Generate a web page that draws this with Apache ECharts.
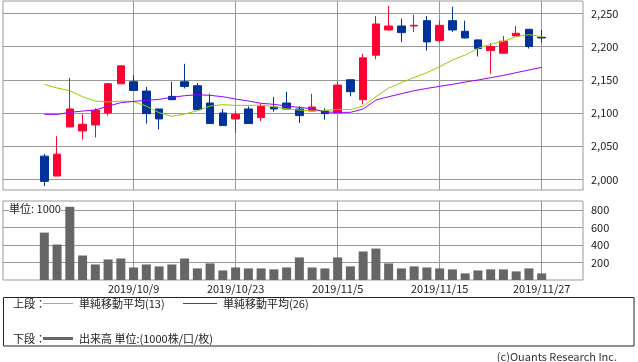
<!DOCTYPE html>
<html><head><meta charset="utf-8">
<script src="https://cdn.jsdelivr.net/npm/echarts@6/dist/echarts.min.js"></script>
<style>html,body{margin:0;padding:0;background:#fff}#c{width:638px;height:362px}</style>
</head><body><div id="c"></div>
<script>
const dates = ['2019/9/30','2019/10/1','2019/10/2','2019/10/3','2019/10/4','2019/10/7','2019/10/8','2019/10/9','2019/10/10','2019/10/11',
  '2019/10/15','2019/10/16','2019/10/17','2019/10/18','2019/10/21','2019/10/23','2019/10/24','2019/10/25','2019/10/28','2019/10/29',
  '2019/10/30','2019/10/31','2019/11/1','2019/11/5','2019/11/6','2019/11/7','2019/11/8','2019/11/11','2019/11/12','2019/11/13',
  '2019/11/14','2019/11/15','2019/11/18','2019/11/19','2019/11/20','2019/11/21','2019/11/22','2019/11/25','2019/11/26','2019/11/27'];
const openP  = [2035,2005,2079,2073,2082,2100,2144,2147,2133,2106,2125,2147,2141,2115,2100,2091,2106,2093,2109,2115,2106,2103,2103,2100,2150,2120,2187,2225,2231,2231,2239,2209,2239,2223,2210,2194,2190,2216,2226,2214];
const closeP = [1997,2038,2106,2083,2104,2144,2171,2134,2099,2091,2120,2140,2105,2084,2081,2098,2084,2110,2106,2106,2096,2109,2099,2142,2132,2183,2234,2231,2221,2232,2207,2232,2225,2213,2197,2200,2208,2220,2200,2213];
const lowP   = [1990,2005,2079,2060,2063,2096,2144,2134,2084,2075,2120,2137,2105,2084,2081,2070,2084,2088,2102,2106,2085,2103,2090,2100,2125,2113,2181,2224,2207,2222,2194,2206,2222,2212,2185,2159,2190,2216,2197,2206];
const highP  = [2038,2065,2153,2098,2107,2145,2171,2157,2139,2106,2147,2174,2145,2129,2106,2103,2110,2114,2124,2132,2110,2129,2107,2148,2150,2189,2246,2261,2242,2248,2246,2239,2260,2239,2211,2205,2216,2231,2226,2225];
const ma13 = [2143.1,2137.6,2133.5,2124.5,2118.0,2116.5,2118.0,2117.0,2110.4,2100.4,2094.9,2098.4,2103.4,2110.4,2112.5,2111.4,2111.4,2111.9,2109.4,2106.4,
  2104.4,2102.9,2103.9,2105.4,2105.0,2110.4,2124.5,2137.5,2145.6,2153.6,2160.7,2169.7,2179.7,2187.3,2197.3,2203.3,2207.8,2214.9,2217.9,2214.9];
const ma26 = [2097.9,2097.9,2100.9,2102.9,2104.4,2110.4,2115.5,2117.5,2119.0,2120.5,2123.5,2126.0,2127.5,2126.5,2124.5,2121.0,2118.0,2114.5,2113.0,2110.4,
  2108.4,2106.4,2101.4,2100.9,2100.9,2106.0,2119.5,2124.5,2129.0,2133.5,2137.0,2140.1,2143.1,2146.6,2149.6,2153.1,2156.6,2160.7,2164.7,2168.7];
const volume = [540,404,834,279,177,234,245,143,177,155,177,245,132,189,109,143,132,132,121,143,257,143,132,257,155,325,358,189,132,155,143,132,121,75,109,121,121,98,132,75];
const dateTickIdx = [7,15,23,31,39];
const priceTicks = [2000,2050,2100,2150,2200,2250];
const volTicks = [200,400,600,800];

const FONT = 'Noto Sans CJK JP';
const GRID_C = '#999';
const TXT_C = '#222';

const candleData = dates.map((d,i)=>[i, openP[i], closeP[i], lowP[i], highP[i]]);
const ma13Data = ma13.map((v,i)=>[i,v]);
const ma26Data = ma26.map((v,i)=>[i,v]);
const volData = volume.map((v,i)=>[i,v]);

const xBase = {type:'value', min:-3.24, max:42.24, axisLine:{show:false},
  axisTick:{show:false, customValues:dateTickIdx},
  splitLine:{show:true, lineStyle:{color:GRID_C, width:1}}};

const chart = echarts.init(document.getElementById('c'));
chart.setOption({
  animation:false,
  backgroundColor:'#fff',
  grid:[
    {left:3, right:55, top:1, height:189, show:true, borderColor:GRID_C, borderWidth:1},
    {left:3, right:55, top:201, height:79, show:true, borderColor:GRID_C, borderWidth:1}
  ],
  xAxis:[
    Object.assign({gridIndex:0, axisLabel:{show:false, customValues:dateTickIdx}}, xBase),
    Object.assign({gridIndex:1, axisLabel:{show:true, customValues:dateTickIdx, margin:3, color:TXT_C, fontFamily:FONT, fontSize:11,
      formatter:v=>dates[Math.round(v)]||''}}, xBase)
  ],
  yAxis:[
    {type:'value', gridIndex:0, position:'right', min:1984, max:2268.6, axisLine:{show:false},
     axisTick:{show:true, length:3, customValues:priceTicks, lineStyle:{color:GRID_C}},
     axisLabel:{show:true, customValues:priceTicks, margin:8, color:TXT_C, fontFamily:FONT, fontSize:11,
       formatter:v=>v.toLocaleString('en-US')},
     splitLine:{show:true, lineStyle:{color:GRID_C}}},
    {type:'value', gridIndex:1, position:'right', min:0, max:900, axisLine:{show:false},
     axisTick:{show:true, length:3, customValues:volTicks, lineStyle:{color:GRID_C}},
     axisLabel:{show:true, customValues:volTicks, margin:8, color:TXT_C, fontFamily:FONT, fontSize:11},
     splitLine:{show:true, lineStyle:{color:GRID_C}}}
  ],
  series:[
    {type:'candlestick', xAxisIndex:0, yAxisIndex:0, data:candleData, encode:{x:0, y:[1,2,3,4]}, barWidth:8,
     itemStyle:{color:'#ff0033', color0:'#003399', borderColor:'#ff0033', borderColor0:'#003399', borderWidth:1}},
    {type:'line', xAxisIndex:0, yAxisIndex:0, data:ma13Data, showSymbol:false, symbol:'none',
     lineStyle:{color:'#99cc00', width:1}},
    {type:'line', xAxisIndex:0, yAxisIndex:0, data:ma26Data, showSymbol:false, symbol:'none',
     lineStyle:{color:'#9900ff', width:1}},
    {type:'bar', xAxisIndex:1, yAxisIndex:1, data:volData, barWidth:9, itemStyle:{color:'#666'}}
  ],
  graphic:[
    {type:'text', left:9, top:203, z:100, style:{text:'単位: 1000', font:'11px "'+FONT+'"', fill:TXT_C, backgroundColor:'#fff'}},
    {type:'rect', shape:{x:3.5, y:297.5, width:630.5, height:48.5}, style:{fill:null, stroke:'#222', lineWidth:1}},
    {type:'text', x:13, y:303.7, style:{text:'上段：', font:'11px "'+FONT+'"', fill:TXT_C, verticalAlign:'middle'}},
    {type:'line', shape:{x1:43, y1:303.5, x2:73, y2:303.5}, style:{stroke:'#99cc00', lineWidth:1}},
    {type:'text', x:79, y:303.7, style:{text:'単純移動平均(13)', font:'11px "'+FONT+'"', fill:TXT_C, verticalAlign:'middle'}},
    {type:'line', shape:{x1:183, y1:303.5, x2:217, y2:303.5}, style:{stroke:'#9900ff', lineWidth:1}},
    {type:'text', x:223, y:303.7, style:{text:'単純移動平均(26)', font:'11px "'+FONT+'"', fill:TXT_C, verticalAlign:'middle'}},
    {type:'text', x:13, y:338.7, style:{text:'下段：', font:'11px "'+FONT+'"', fill:TXT_C, verticalAlign:'middle'}},
    {type:'line', shape:{x1:43, y1:338.5, x2:73, y2:338.5}, style:{stroke:'#666', lineWidth:3}},
    {type:'text', x:79, y:338.7, style:{text:'出来高 単位:(1000株/口/枚)', font:'11px "'+FONT+'"', fill:TXT_C, verticalAlign:'middle'}},
    {type:'text', x:617, y:356.5, style:{text:'(c)Ouants Research Inc.', font:'11px "'+FONT+'"', fill:'#333', align:'right', verticalAlign:'middle'}}
  ]
});
</script>
</body></html>
